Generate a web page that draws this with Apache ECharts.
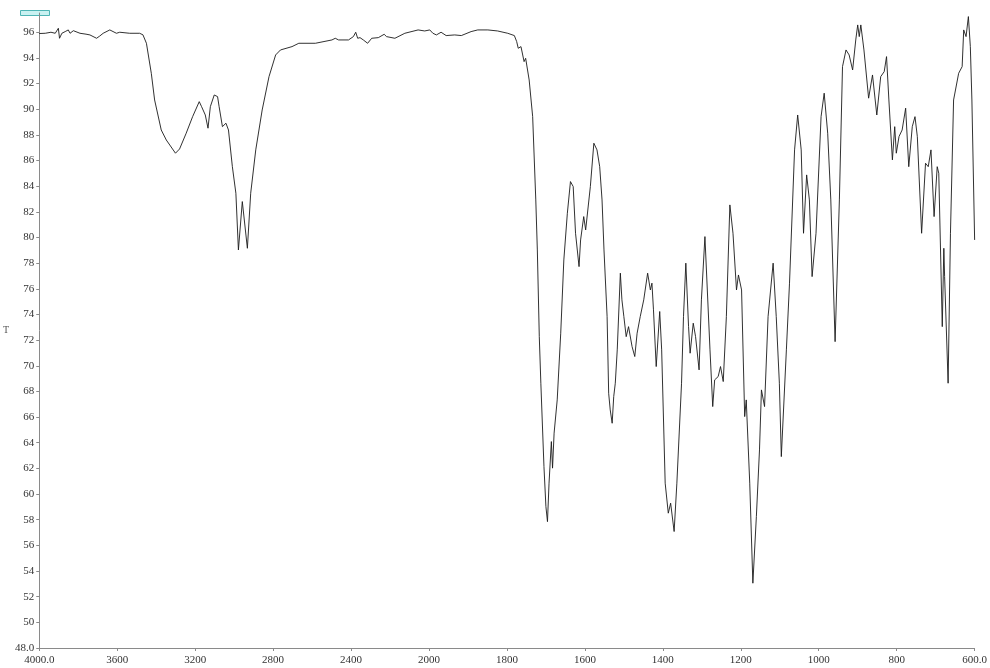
<!DOCTYPE html>
<html>
<head>
<meta charset="utf-8">
<script src="https://cdn.jsdelivr.net/npm/echarts@6/dist/echarts.min.js"></script>
<style>
html,body{margin:0;padding:0;background:#fff;}
#chart{width:990px;height:668px;}
</style>
</head>
<body>
<div id="chart"></div>
<script>
// Wavenumbers (cm-1)
const wavenumbers = [
4000,3995,3969,3940,3918,3902,3896,3884,3867,3851,3842,3825,3791,3760,3740,3706,3690,3672,3638,3604,3587,3536,3485,
3468,3450,3425,3408,3374,3348,3301,3280,3246,3213,3179,3167,3148,3134,3122,3102,3085,3077,3060,3042,3029,3009,2991,
2978,2958,2932,2915,2889,2856,2821,2787,2762,2703,2668,2583,2498,2481,2464,2413,2388,2376,2366,2354,2337,2315,2294,
2260,2230,2218,2175,2124,2056,2022,1998,1990,1981,1969,1956,1934,1917,1892,1875,1849,1824,1798,1781,1775,1771,1768,
1764,1756,1752,1743,1734,1726,1722,1717,1713,1705,1700,1696,1692,1686,1683,1679,1671,1662,1654,1645,1637,1630,1624,
1615,1611,1603,1598,1586,1577,1569,1562,1556,1551,1543,1539,1535,1530,1526,1522,1517,1509,1505,1500,1494,1488,1479,
1472,1466,1458,1449,1439,1432,1428,1424,1417,1408,1403,1394,1386,1380,1371,1364,1352,1347,1341,1334,1330,1322,1316,
1307,1301,1292,1279,1272,1267,1258,1252,1245,1237,1228,1220,1211,1206,1198,1190,1186,1177,1169,1160,1152,1147,1139,
1130,1117,1109,1101,1096,1083,1075,1062,1054,1045,1039,1031,1024,1017,1007,994,986,977,969,958,947,939,930,922,913,
905,900,896,892,884,872,862,858,851,841,832,826,820,811,805,801,794,786,777,769,760,753,747,736,726,719,712,704,696,
692,683,679,677,668,662,654,641,632,628,622,616,611,607,600
];
// Transmittance (%T)
const transmittance = [
95.9,96.05,95.92,96.0,95.92,96.31,95.53,95.92,96.05,96.18,95.92,96.12,95.92,95.85,95.79,95.53,95.7,95.92,96.18,95.92,96.0,95.92,95.92,
95.8,95.14,92.8,90.72,88.38,87.6,86.57,86.9,88.13,89.42,90.59,90.2,89.55,88.52,90.2,91.11,90.98,90.2,88.64,88.91,88.38,85.52,83.45,
79.03,82.8,79.16,83.45,86.83,89.94,92.54,94.23,94.62,94.88,95.14,95.14,95.4,95.53,95.4,95.4,95.66,96.0,95.53,95.58,95.4,95.14,95.53,
95.58,95.84,95.66,95.53,95.92,96.18,96.1,96.18,95.92,95.79,96.0,95.74,95.79,95.74,96.05,96.18,96.18,96.1,95.92,95.74,95.27,94.75,94.62,
94.88,93.71,93.97,92.28,89.42,82.93,79.03,72.27,68.64,62.14,59.02,57.85,60.85,64.09,62.02,64.75,67.34,72.54,78.25,81.89,84.36,83.97,80.33,
77.73,79.81,81.63,80.59,83.97,87.35,86.83,85.52,82.93,79.03,73.83,67.86,66.56,65.52,67.6,68.64,71.24,77.22,75.14,73.83,72.27,73.05,71.5,
70.72,72.54,73.83,75.14,77.22,75.91,76.44,74.36,69.94,74.23,71.24,60.85,58.51,59.29,57.08,60.85,68.64,73.83,78.0,73.05,70.98,73.32,72.27,
69.68,75.14,80.07,71.24,66.82,68.9,69.16,69.94,68.77,73.83,82.54,80.33,75.91,77.08,75.91,66.04,67.34,60.85,53.05,58.24,63.44,68.12,66.82,
73.83,78.0,73.83,68.64,62.92,71.24,76.44,86.83,89.55,86.83,80.33,84.88,82.93,76.95,80.33,89.42,91.25,88.13,82.93,71.88,82.93,93.32,94.62,94.23,93.06,
95.4,96.57,95.66,96.57,94.62,90.86,92.67,92.54,89.55,92.54,92.93,94.1,90.72,86.05,88.64,86.57,87.87,88.38,90.08,85.52,88.64,89.42,87.86,80.33,85.79,85.52,86.83,81.63,85.52,
85.01,73.05,79.16,76.95,68.64,80.33,90.72,92.8,93.32,96.18,95.66,97.22,94.88,90.72,79.81
];
// X tick labels (the axis changes scale at 2000 cm-1)
const xTickLabels = ['4000.0','3600','3200','2800','2400','2000','1800','1600','1400','1200','1000','800','600.0'];
const xTickValues = [4000,3600,3200,2800,2400,2000,1800,1600,1400,1200,1000,800,600];

// piecewise axis position: 400 cm-1 per division above 2000, 200 cm-1 per division below
function pos(w){ return w >= 2000 ? (4000 - w) / 400 : 5 + (2000 - w) / 200; }

const seriesData = wavenumbers.map((w, i) => [pos(w), transmittance[i]]);

const chart = echarts.init(document.getElementById('chart'), null, {renderer: 'canvas'});
const font = 'Liberation Serif';
chart.setOption({
  animation: false,
  backgroundColor: '#ffffff',
  grid: {left: 39, right: 11, top: 13, bottom: 20, containLabel: false},
  xAxis: {
    type: 'value', min: 0, max: 12, interval: 1,
    axisLine: {lineStyle: {color: '#8a8a8a', width: 1}},
    axisTick: {length: 3, lineStyle: {color: '#8a8a8a'}},
    splitLine: {show: false},
    axisLabel: {
      margin: 7, color: '#333', fontFamily: font, fontSize: 11,
      formatter: v => { const i = Math.round(v); return xTickLabels[i] !== undefined ? xTickLabels[i] : ''; }
    }
  },
  yAxis: {
    type: 'value', min: 48, max: 97.5, interval: 2,
    name: 'T', nameLocation: 'middle', nameGap: 29, nameRotate: 0,
    nameTextStyle: {fontFamily: font, fontSize: 10, color: '#555'},
    axisLine: {show: true, lineStyle: {color: '#8a8a8a', width: 1}},
    axisTick: {length: 3, lineStyle: {color: '#8a8a8a'}},
    splitLine: {show: false},
    axisLabel: {
      margin: 5, color: '#333', fontFamily: font, fontSize: 11, showMaxLabel: false,
      formatter: v => (Math.abs(v - 48) < 1e-6 ? '48.0' : (Math.abs(v % 2) < 1e-6 ? String(v) : ''))
    }
  },
  graphic: [{
    type: 'rect', left: 20, top: 10, shape: {width: 29, height: 5},
    style: {fill: '#c9f1f1', stroke: '#4fb5b5', lineWidth: 1}
  }],
  series: [{
    type: 'line', data: seriesData, showSymbol: false, smooth: false,
    lineStyle: {color: '#1a1a1a', width: 0.9}
  }]
});
</script>
</body>
</html>
